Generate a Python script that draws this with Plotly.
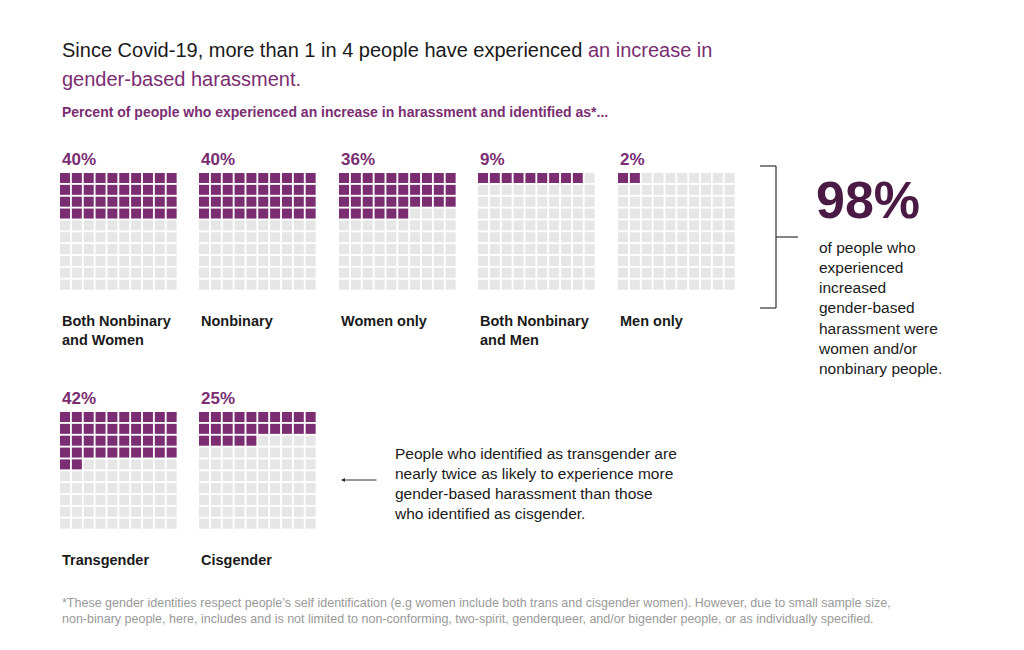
import plotly.graph_objects as go

categories = ["Both Nonbinary<br>and Women", "Nonbinary", "Women only", "Both Nonbinary<br>and Men", "Men only", "Transgender", "Cisgender"]
percents = [40, 40, 36, 9, 2, 42, 25]

PURPLE = "#7b2d72"
GREY = "#e6e6e6"
FONT = "Liberation Sans, Arial, sans-serif"

origins = [(52, 165), (191, 165), (331, 165), (470, 165), (610, 165), (52, 404), (191, 404)]
pitch = 11.85

fig = go.Figure()
fx, fy, gx, gy = [], [], [], []
for (ox, oy), p in zip(origins, percents):
    for i in range(100):
        r, c = divmod(i, 10)
        x = ox + 5 + c * pitch
        y = oy + 5 + r * pitch
        if i < p:
            fx.append(x); fy.append(y)
        else:
            gx.append(x); gy.append(y)
fig.add_trace(go.Scatter(x=gx, y=gy, mode="markers", marker=dict(symbol="square", size=10, color=GREY), hoverinfo="skip"))
fig.add_trace(go.Scatter(x=fx, y=fy, mode="markers", marker=dict(symbol="square", size=10, color=PURPLE), hoverinfo="skip"))

ann = []
def T(x, y, text, size, color="#1a1a1a", anchor="left", yanchor="middle", **kw):
    ann.append(dict(x=x, y=y, xref="x", yref="y", text=text, showarrow=False, xanchor=anchor, yanchor=yanchor,
                    font=dict(family=FONT, size=size, color=color), align="left", **kw))

T(52, 42, "Since Covid-19, more than 1 in 4 people have experienced <span style='color:%s'>an increase in</span>" % PURPLE, 20)
T(52, 71, "gender-based harassment.", 20, PURPLE)
T(52, 104, "<b>Percent of people who experienced an increase in harassment and identified as*...</b>", 14, PURPLE)
for (ox, oy), p, c in zip(origins, percents, categories):
    T(ox, oy - 14, "<b>%d%%</b>" % p, 17, PURPLE)
    T(ox, oy + 138, "<b>%s</b>" % c, 14.5, "#1a1a1a", yanchor="top")
T(806, 192, "<b>98%</b>", 52, "#4a1a45")
T(808, 300, "of people who<br>experienced<br>increased<br>gender-based<br>harassment were<br>women and/or<br>nonbinary people.", 15.5, "#1a1a1a")
T(384, 475, "People who identified as transgender are<br>nearly twice as likely to experience more<br>gender-based harassment than those<br>who identified as cisgender.", 15.5, "#1a1a1a")
T(52, 603, "*These gender identities respect people’s self identification (e.g women include both trans and cisgender women). However, due to small sample size,<br>non-binary people, here, includes and is not limited to non-conforming, two-spirit, genderqueer, and/or bigender people, or as individually specified.", 12.5, "#999999")
ann.append(dict(x=333, y=472, ax=370, ay=472, xref="x", yref="y", axref="x", ayref="y", text="", showarrow=True,
                arrowhead=2, arrowsize=0.8, arrowwidth=1, arrowcolor="#333"))

shapes = [
    dict(type="line", x0=768, x1=768, y0=158, y1=300, line=dict(color="#333", width=1.2)),
    dict(type="line", x0=752, x1=768, y0=158, y1=158, line=dict(color="#333", width=1.2)),
    dict(type="line", x0=752, x1=768, y0=300, y1=300, line=dict(color="#333", width=1.2)),
    dict(type="line", x0=768, x1=790, y0=229, y1=229, line=dict(color="#333", width=1.2)),
]

fig.update_layout(width=1024, height=650, margin=dict(l=0, r=0, t=0, b=0), paper_bgcolor="white", plot_bgcolor="white",
                  showlegend=False, annotations=ann, shapes=shapes,
                  xaxis=dict(range=[0, 1024], visible=False, fixedrange=True),
                  yaxis=dict(range=[650, 0], visible=False, fixedrange=True))
fig.write_html("out.html", config={"displayModeBar": False})
